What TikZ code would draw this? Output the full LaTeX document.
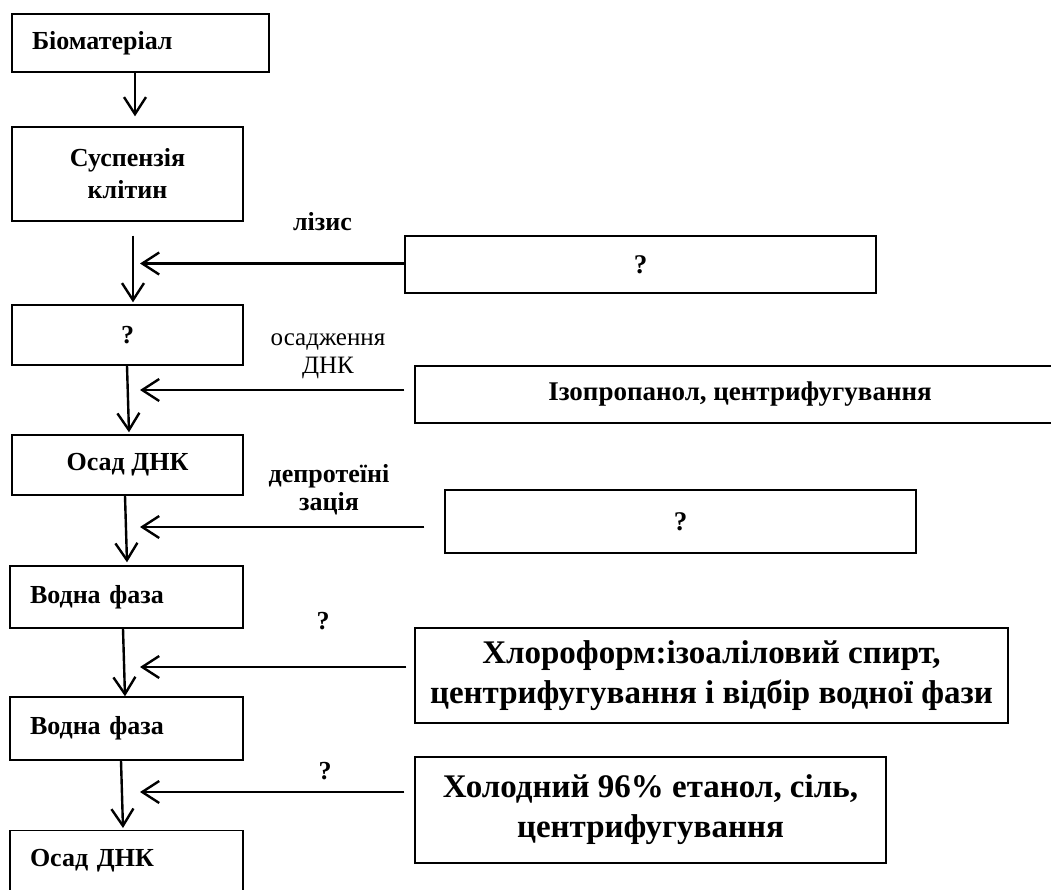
\documentclass[tikz,border=0pt]{standalone}
\usepackage{fontspec}
\setmainfont{Liberation Serif}
\usetikzlibrary{arrows.meta}
\begin{document}
\begin{tikzpicture}[x=1pt,y=-1pt,
  box/.style={draw, line width=1.4pt, rectangle, inner sep=0pt, align=center,
    font=\fontsize{26}{32}\selectfont\bfseries},
  lbox/.style={box, inner xsep=20pt, align=left},
  rbox/.style={box, font=\fontsize{27}{32}\selectfont\bfseries},
  bigbox/.style={box, font=\fontsize{33}{40}\selectfont\bfseries},
  lab/.style={inner sep=0pt, align=center, font=\fontsize{26}{28}\selectfont\bfseries},
  labn/.style={inner sep=0pt, align=center, font=\fontsize{25}{28}\selectfont},
  arr/.style={line width=2.4pt, -{Straight Barb[length=17pt,width=22pt]}}
]
\useasboundingbox (0,0) rectangle (1051,889);
\clip (0,0) rectangle (1051,889);

% left column
\node[lbox, text width=217pt, minimum height=58pt] (b1) at (140.5,43) {Біоматеріал};
\node[box, minimum width=231pt, minimum height=94pt] (b2) at (127.5,174) {Суспензія\\клітин};
\node[box, minimum width=231pt, minimum height=60pt] (b3) at (127.5,335) {?};
\node[box, minimum width=231pt, minimum height=60pt] (b4) at (127.5,465) {Осад ДНК};
\node[lbox, text width=193pt, minimum height=62pt] (b5) at (126.5,597) {Водна фаза};
\node[lbox, text width=193pt, minimum height=63pt] (b6) at (126.5,728.5) {Водна фаза};
\node[lbox, text width=193pt, inner ysep=0pt, text height=36pt, text depth=50pt, anchor=north] (b7) at (126.5,830) {Осад ДНК};

% right column
\node[rbox, minimum width=471pt, minimum height=57pt] (r1) at (640.5,264.5) {?};
\node[rbox, minimum width=650pt, minimum height=57pt] (r2) at (740,394.5) {Ізопропанол, центрифугування};
\node[rbox, minimum width=471pt, minimum height=63pt] (r3) at (680.5,521.5) {?};
\node[bigbox, minimum width=593pt, minimum height=95pt] (r4) at (711.5,675.5) {Хлороформ:ізоаліловий спирт,\\центрифугування і відбір водної фази};
\node[bigbox, minimum width=471pt, minimum height=106pt] (r5) at (650.5,810) {Холодний 96\% етанол, сіль,\\центрифугування};

% labels
\node[lab] (l1) at (322.5,222) {лізис};
\node[labn] (l2) at (328,356) {осадження\\ДНК};
\node[lab] (l3) at (329,490) {депротеїні\\зація};
\node[lab] (l4) at (323,621) {?};
\node[lab] (l5) at (325,771) {?};

% vertical arrows
\draw[arr] ([xshift=-5.5pt]b1.south) -- ([xshift=7.5pt,yshift=10pt]b2.north);
\draw[arr] ([xshift=5.5pt,yshift=-14pt]b2.south) -- ([xshift=5.5pt,yshift=2pt]b3.north);
\draw[arr] ([xshift=-0.5pt]b3.south) -- ([xshift=1.5pt,yshift=2pt]b4.north);
\draw[arr] ([xshift=-2.5pt]b4.south) -- ([xshift=0.5pt,yshift=3pt]b5.north);
\draw[arr] ([xshift=-3.5pt]b5.south) -- ([xshift=-1.5pt]b6.north);
\draw[arr] ([xshift=-5.5pt]b6.south) -- ([xshift=-3.5pt,yshift=2pt]b7.north);

% horizontal arrows
\coordinate (t1) at (140,263.5);
\coordinate (t2) at (140,390);
\coordinate (t3) at (140,527);
\coordinate (t4) at (140,667);
\coordinate (t5) at (140,792);
\draw[arr] (r1.west |- t1) -- (t1);
\draw[arr, shorten <=10pt] (r2.west |- t2) -- (t2);
\draw[arr, shorten <=20pt] (r3.west |- t3) -- (t3);
\draw[arr, shorten <=8pt] (r4.west |- t4) -- (t4);
\draw[arr, shorten <=10pt] (r5.west |- t5) -- (t5);
\end{tikzpicture}
\end{document}
